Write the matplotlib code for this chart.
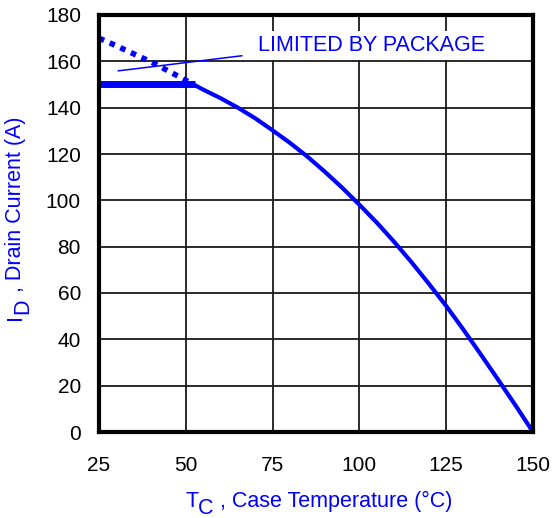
import matplotlib
matplotlib.use("Agg")
import matplotlib.pyplot as plt

plt.rcParams['font.family'] = ['Liberation Sans', 'DejaVu Sans']

# Silicon-limited derating curve (above package limit), dotted
tc_dot = [25, 30, 35, 40, 45, 50, 52]
id_dot = [170, 166.7, 163.2, 159.8, 155.8, 151.8, 150.4]
# Package limit
tc_pkg = [25, 52.6]
id_pkg = [150, 150]
# Derating curve below package limit
tc_cur = [52, 55, 60, 65, 70, 75, 80, 85, 90, 95, 100, 105, 110, 115, 120, 125, 130, 135, 140, 145, 150]
id_cur = [150.2, 147.8, 144.1, 140.0, 135.4, 130.2, 124.8, 118.9, 112.4, 105.5, 98.1,
          90.4, 82.1, 73.3, 64.0, 54.4, 44.1, 33.4, 22.5, 11.4, 0]

xticks = [25, 50, 75, 100, 125, 150]
yticks = [0, 20, 40, 60, 80, 100, 120, 140, 160, 180]
note = "LIMITED BY PACKAGE"
note_line_x = [30.6, 66.1]
note_line_y = [155.9, 162.4]

blue = '#0000ff'
W, H = 554, 518
fig = plt.figure(figsize=(W / 100, H / 100), dpi=100)
ax = fig.add_axes([99 / W, 1 - 432 / H, (533 - 99) / W, (432 - 15) / H])

ax.plot(tc_cur, id_cur, color=blue, lw=3.0, solid_capstyle='butt', solid_joinstyle='round', zorder=3)
ax.plot(tc_pkg, id_pkg, color=blue, lw=5.0, solid_capstyle='butt', zorder=3)
ax.plot(tc_dot, id_dot, color=blue, lw=4, linestyle=(0, (1, 1.1)), zorder=3)
ax.plot(note_line_x, note_line_y, color=blue, lw=1.1, zorder=3)
ax.text(70.8, 167, note, color=blue, fontsize=15.5, va='center', ha='left', zorder=5,
        bbox=dict(facecolor='white', edgecolor='none', pad=3))

ax.set_xlim(25, 150)
ax.set_ylim(0, 180)
ax.set_xticks(xticks)
ax.set_yticks(yticks)
ax.grid(True, color='#1a1a1a', lw=1.3)
ax.set_axisbelow(True)
for s in ax.spines.values():
    s.set_linewidth(3)
    s.set_color('black')
    s.set_zorder(4)
ax.tick_params(length=0, labelsize=15)
ax.tick_params(axis='x', pad=17)
ax.tick_params(axis='y', pad=13)

fs = 15.5
# x label: T_C , Case Temperature (°C)
t1 = fig.text(185 / W, 11 / H, "T", color=blue, fontsize=fs, ha='left', va='baseline')
t2 = plt.annotate("C", xy=(1, 0), xycoords=t1, xytext=(0, -5), textcoords='offset points',
                  color=blue, fontsize=fs, ha='left', va='bottom', annotation_clip=False)
t3 = plt.annotate(" , Case Temperature (°C)", xy=(1, 0), xycoords=t2, xytext=(0, 5),
                  textcoords='offset points', color=blue, fontsize=fs, ha='left', va='bottom',
                  annotation_clip=False)

# y label: I_D , Drain Current (A)
u1 = fig.text(5 / W, 198 / H, "I", color=blue, fontsize=fs, rotation=90, ha='left', va='bottom')
u2 = plt.annotate("D", xy=(0, 1), xycoords=u1, xytext=(5, 0), textcoords='offset points',
                  color=blue, fontsize=fs, rotation=90, ha='left', va='bottom', annotation_clip=False)
u3 = plt.annotate(" , Drain Current (A)", xy=(0, 1), xycoords=u2, xytext=(-5, 0),
                  textcoords='offset points', color=blue, fontsize=fs, rotation=90,
                  ha='left', va='bottom', annotation_clip=False)

fig.savefig("out.png", dpi=100)
